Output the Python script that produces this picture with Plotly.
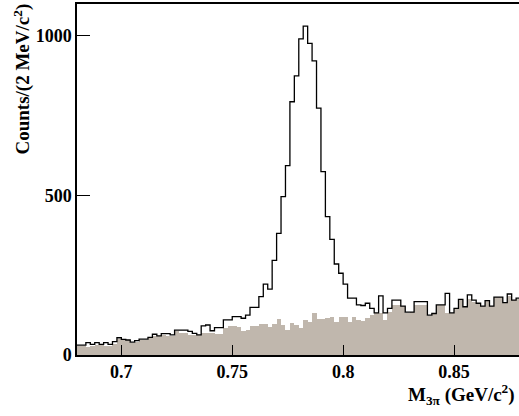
import numpy as np
import plotly.graph_objects as go

# Histogram binning (2 MeV bins from 0.68 to 0.88 GeV)
x_low = 0.68
bin_width = 0.002

total_counts = [
    31, 31, 39, 33, 39, 33, 39, 33, 42, 54,
    49, 47, 40, 45, 50, 50, 55, 65, 60, 67,
    67, 63, 78, 78, 78, 74, 68, 63, 91, 94,
    76, 86, 86, 110, 110, 120, 120, 115, 125, 149,
    149, 183, 222, 206, 296, 381, 496, 593, 793, 874,
    990, 1030, 976, 921, 773, 574, 433, 362, 285, 256,
    222, 178, 178, 157, 155, 162, 146, 132, 185, 132,
    146, 172, 172, 153, 134, 134, 167, 167, 167, 125,
    130, 157, 157, 193, 132, 146, 174, 151, 188, 172,
    162, 153, 170, 153, 181, 181, 164, 191, 172, 178,
]

background_counts = [
    29, 29, 26, 29, 31, 31, 29, 29, 33, 49,
    47, 47, 39, 42, 47, 47, 52, 58, 58, 63,
    60, 60, 75, 68, 70, 63, 63, 63, 68, 68,
    68, 66, 66, 84, 91, 91, 89, 76, 78, 91,
    91, 97, 97, 89, 96, 114, 94, 78, 101, 94,
    83, 110, 104, 130, 112, 112, 115, 118, 104, 120,
    120, 104, 118, 110, 107, 115, 125, 130, 130, 110,
    136, 157, 157, 153, 130, 136, 157, 157, 157, 122,
    128, 157, 157, 132, 132, 146, 174, 151, 175, 167,
    162, 153, 170, 153, 181, 181, 164, 185, 172, 174,
]

x_tick_vals = [0.7, 0.75, 0.8, 0.85]
x_tick_text = ["0.7", "0.75", "0.8", "0.85"]
y_tick_vals = [0, 500, 1000]
y_tick_text = ["0", "500", "1000"]

n = len(total_counts)
edges = x_low + bin_width * np.arange(n + 1)
centers = edges[:-1] + bin_width / 2
step_y = list(total_counts) + [total_counts[-1]]

FONT = "Liberation Serif"

fig = go.Figure()
fig.add_trace(go.Bar(
    x=centers, y=background_counts, width=bin_width,
    marker=dict(color="rgb(192,183,173)", line=dict(width=0)),
    showlegend=False, hoverinfo="skip",
))
fig.add_trace(go.Scatter(
    x=edges, y=step_y, mode="lines", line=dict(color="black", width=1.3, shape="hv"),
    showlegend=False, hoverinfo="skip",
))

fig.update_layout(
    width=519, height=416,
    margin=dict(l=77, r=0, t=4, b=61),
    paper_bgcolor="white", plot_bgcolor="white",
    bargap=0,
    font=dict(family=FONT, size=17, color="black"),
    xaxis=dict(
        range=[0.68, 0.8793], showgrid=False, zeroline=False,
        showline=True, linecolor="black", linewidth=1.5, mirror=True,
        ticks="inside", ticklen=10, tickwidth=1.2, tickcolor="black",
        tickvals=x_tick_vals, ticktext=[f"<b>{t}</b>" for t in x_tick_text],
        tickfont=dict(family=FONT, size=18), ticklabelstandoff=0,
        automargin=False,
    ),
    yaxis=dict(
        range=[0, 1099], showgrid=False, zeroline=False,
        showline=True, linecolor="black", linewidth=1.5,
        ticks="inside", ticklen=13, tickwidth=1.2, tickcolor="black",
        tickvals=y_tick_vals, ticktext=[f"<b>{t}</b>" for t in y_tick_text],
        tickfont=dict(family=FONT, size=18), ticklabelstandoff=0,
        automargin=False,
    ),
    annotations=[
        dict(text="<b>M<sub>3π</sub> (GeV/c<sup>2</sup>)</b>", xref="paper", yref="paper",
             x=1.0, y=0, xanchor="right", yanchor="top", yshift=-24, xshift=-2,
             showarrow=False, font=dict(family=FONT, size=19)),
        dict(text="<b>Counts/(2 MeV/c<sup>2</sup>)</b>", xref="paper", yref="paper",
             x=0, y=1.0, xanchor="center", yanchor="top", xshift=-55, yshift=2,
             textangle=-90, showarrow=False, font=dict(family=FONT, size=19)),
    ],
)

fig.write_html("out.html", post_script="document.body.style.margin='0px';",
               config={"displayModeBar": False})
